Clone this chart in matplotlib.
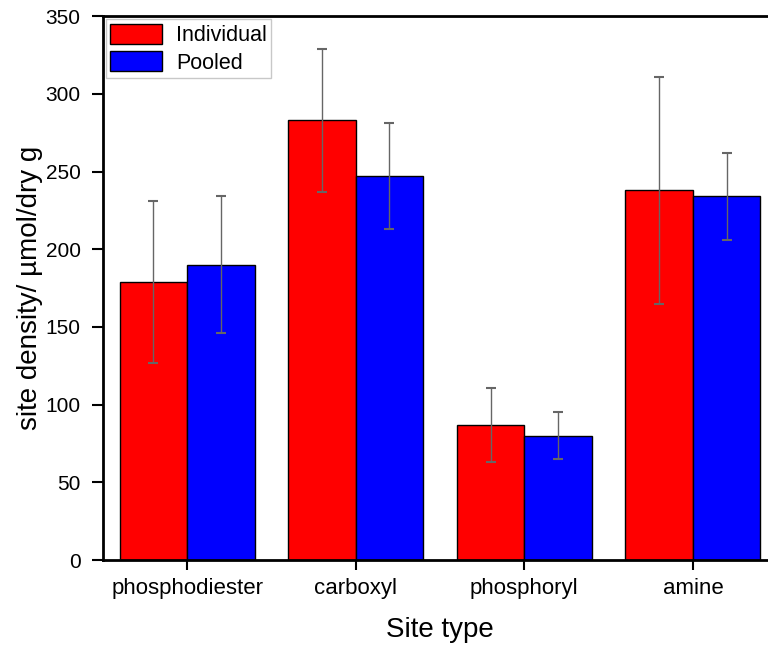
import matplotlib.pyplot as plt
import numpy as np

plt.rcParams['font.family'] = ['Liberation Sans', 'DejaVu Sans']

# site types and densities (umol / dry g)
sites = ['phosphodiester', 'carboxyl', 'phosphoryl', 'amine']
individual = [179, 283, 87, 238]
individual_err = [52, 46, 24, 73]
pooled = [190, 247, 80, 234]
pooled_err = [44, 34, 15, 28]

x = np.arange(len(sites))
w = 0.4

fig = plt.figure(figsize=(7.68, 6.46), dpi=100)
ax = fig.add_axes([0.134, 0.133, 0.878, 0.842])

err_kw = dict(ecolor='#666666', elinewidth=1, capsize=3.5, capthick=1.5)
ax.bar(x - w / 2, individual, w, yerr=individual_err, color='#ff0000',
       edgecolor='black', linewidth=1, label='Individual', error_kw=err_kw)
ax.bar(x + w / 2, pooled, w, yerr=pooled_err, color='#0000ff',
       edgecolor='black', linewidth=1, label='Pooled', error_kw=err_kw)

ax.set_xlim(-0.5, 3.5)
ax.set_ylim(0, 350)
ax.set_yticks(np.arange(0, 351, 50))
ax.set_xticks(x)
ax.set_xticklabels(sites)
ax.tick_params(axis='y', direction='out', length=8, width=1.5, labelsize=15, pad=8)
ax.tick_params(axis='x', direction='out', length=7, width=1.5, labelsize=16, pad=6)
for s in ax.spines.values():
    s.set_linewidth(2)

ax.set_xlabel('Site type', fontsize=20, labelpad=13)
ax.set_ylabel('site density/ µmol/dry g', fontsize=20, labelpad=2)

leg = ax.legend(loc='upper left', fontsize=15.5, fancybox=False,
                edgecolor='#bbbbbb', borderaxespad=0.15, handlelength=2.4,
                handleheight=1.05, labelspacing=0.25, handletextpad=0.65,
                borderpad=0.2)
leg.get_frame().set_linewidth(1)

fig.savefig('out.png', dpi=100)
